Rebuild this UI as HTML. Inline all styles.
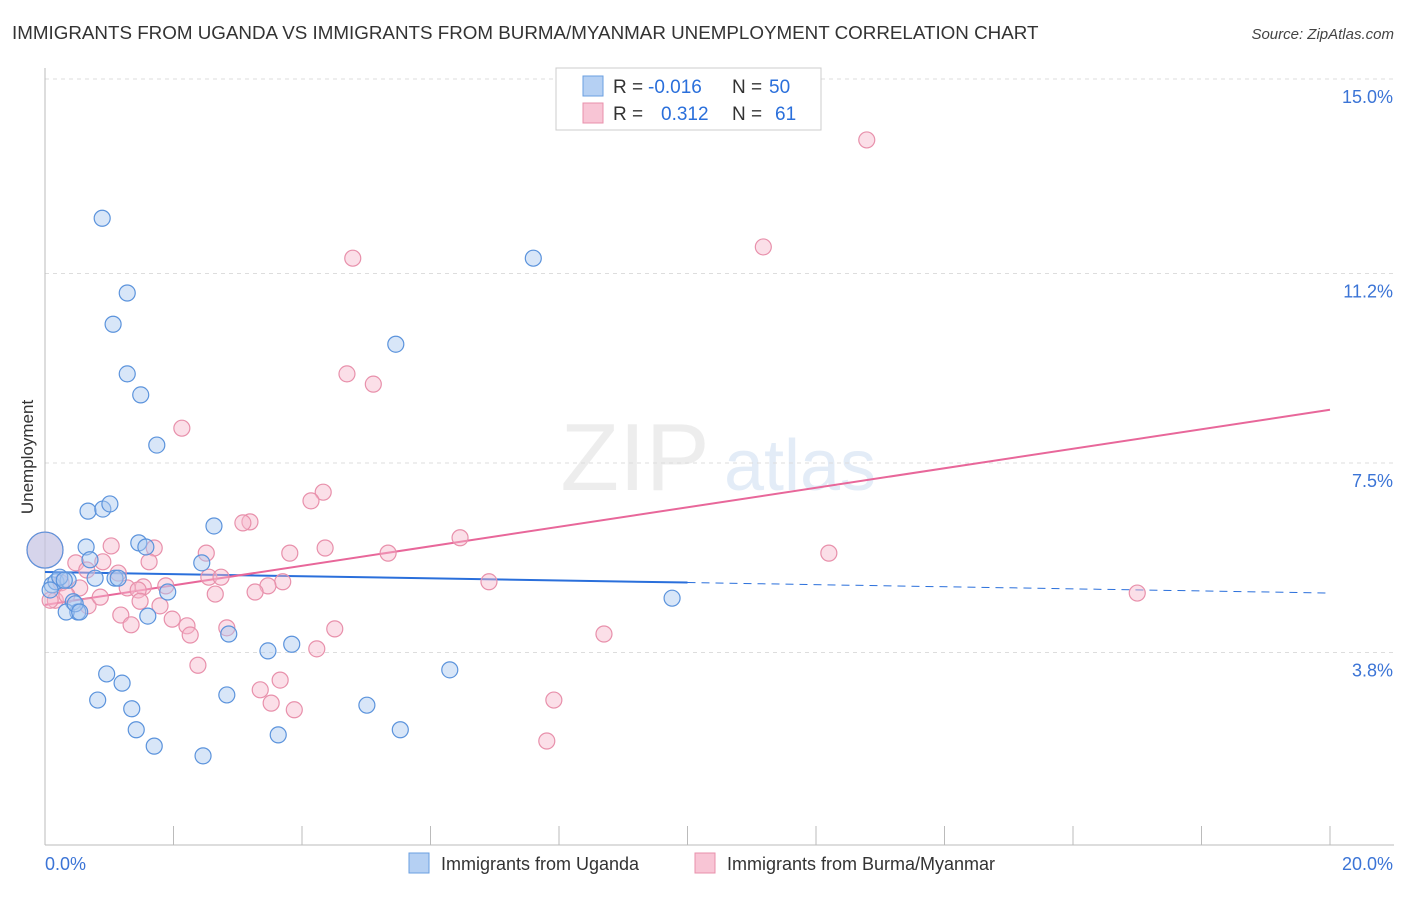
<!DOCTYPE html>
<html><head><meta charset="utf-8"><style>
body{margin:0;background:#fff;font-family:"Liberation Sans",sans-serif;}
svg text{font-family:"Liberation Sans",sans-serif;}
</style></head><body>
<svg id="chart" width="1406" height="892" viewBox="0 0 1406 892" xmlns="http://www.w3.org/2000/svg">
<text x="12" y="39" font-size="18.8" fill="#333">IMMIGRANTS FROM UGANDA VS IMMIGRANTS FROM BURMA/MYANMAR UNEMPLOYMENT CORRELATION CHART</text>
<text x="1394" y="39" font-size="15" fill="#444" text-anchor="end" font-style="italic">Source: ZipAtlas.com</text>
<text transform="translate(33,457) rotate(-90)" font-size="17" fill="#333" text-anchor="middle">Unemployment</text>
<g opacity="0.5"><text x="635" y="490" font-size="96" font-family="Liberation Serif" fill="#ddd" text-anchor="middle">ZIP</text><text x="800" y="490" font-size="72" fill="#c8daf0" text-anchor="middle">atlas</text></g>
<g id="grid"></g><g id="axes"></g><g id="lines"></g><g id="points"></g>
<g>
<rect x="556" y="68" width="265" height="62" fill="#fff" stroke="#ccc"/>
<rect x="583" y="76" width="20" height="20" fill="#b5d0f3" stroke="#6a9fe0"/>
<rect x="583" y="103" width="20" height="20" fill="#f8c5d5" stroke="#e890ab"/>
<text x="613" y="93" font-size="19" fill="#333">R =</text>
<text x="648" y="93" font-size="19" fill="#2a6fdb">-0.016</text>
<text x="732" y="93" font-size="19" fill="#333">N =</text>
<text x="769" y="93" font-size="19" fill="#2a6fdb">50</text>
<text x="613" y="120" font-size="19" fill="#333">R =</text>
<text x="661" y="120" font-size="19" fill="#2a6fdb">0.312</text>
<text x="732" y="120" font-size="19" fill="#333">N =</text>
<text x="775" y="120" font-size="19" fill="#2a6fdb">61</text>
</g>
<g>
<rect x="409" y="853" width="20" height="20" fill="#b5d0f3" stroke="#6a9fe0"/>
<text x="441" y="870" font-size="18" fill="#333">Immigrants from Uganda</text>
<rect x="695" y="853" width="20" height="20" fill="#f8c5d5" stroke="#e890ab"/>
<text x="727" y="870" font-size="18" fill="#333">Immigrants from Burma/Myanmar</text>
</g>
</svg>
<script>
const yTicks=[15.0,11.2,7.5,3.8];
const yTickLabels=["15.0%","11.2%","7.5%","3.8%"];
const xTickLabels=["0.0%","20.0%"];
const ugX=[0.89,1.28,1.06,1.28,1.49,1.74,7.60,5.46,0.67,0.90,1.01,2.63,1.46,0.64,1.57,0.70,2.44,0.11,0.17,0.36,0.78,1.09,1.14,1.91,0.44,0.51,0.33,1.60,2.86,3.84,3.47,9.76,6.30,0.96,1.20,0.82,2.83,1.35,5.01,1.42,5.53,3.63,1.70,2.46,0.00,0.23,0.47,0.30,0.08,0.54];
const ugY=[12.28,10.82,10.21,9.24,8.83,7.85,11.50,9.82,6.56,6.60,6.70,6.27,5.94,5.86,5.86,5.61,5.55,5.12,5.18,5.21,5.25,5.25,5.25,4.98,4.79,4.59,4.59,4.51,4.16,3.96,3.83,4.86,3.46,3.38,3.20,2.87,2.97,2.70,2.77,2.29,2.29,2.19,1.97,1.78,5.80,5.27,4.75,5.21,5.02,4.59];
const bmX=[12.79,11.18,4.79,4.70,5.11,2.13,4.33,4.14,3.19,3.08,6.46,12.20,1.03,1.70,3.81,2.51,5.34,4.36,0.48,0.90,1.62,0.00,0.65,1.14,2.55,2.74,3.70,3.47,6.91,0.25,1.88,1.53,1.28,1.45,0.54,3.27,2.65,17.00,0.16,0.67,1.79,1.18,1.98,2.21,1.34,2.26,2.83,4.51,8.70,4.23,2.38,3.35,3.66,3.52,3.88,7.92,7.81,0.86,0.34,0.08,1.48];
const bmY=[13.81,11.72,11.50,9.24,9.04,8.18,6.93,6.76,6.35,6.33,6.04,5.74,5.88,5.84,5.74,5.74,5.74,5.84,5.55,5.57,5.57,5.80,5.41,5.35,5.27,5.27,5.18,5.10,5.18,5.16,5.10,5.08,5.06,5.02,5.06,4.98,4.94,4.96,4.82,4.71,4.71,4.53,4.45,4.32,4.34,4.14,4.28,4.26,4.16,3.87,3.55,3.07,3.26,2.81,2.68,2.87,2.07,4.88,4.92,4.82,4.80];
const ugTrend=[5.37,4.96];
const bmTrend=[4.73,8.54];
const NS="http://www.w3.org/2000/svg";
const xs=v=>45+v/20*1285;
const ys=v=>79+(15-v)*51.2;
function mk(tag,attrs,parent){const e=document.createElementNS(NS,tag);for(const k in attrs)e.setAttribute(k,attrs[k]);document.getElementById(parent).appendChild(e);return e;}
yTicks.forEach((t,i)=>{
 const g=mk('line',{x1:45,x2:1394,y1:ys(t),y2:ys(t),stroke:'#ddd','stroke-dasharray':'4,4'},'grid');
 
 
 const tx=mk('text',{x:1393,y:ys(t)+24,'font-size':18,fill:'#3b74d6','text-anchor':'end'},'grid');tx.textContent=yTickLabels[i];
 
 
});
const ax=mk('line',{x1:45,x2:45,y1:68,y2:845,stroke:'#bbb'},'axes');


const bx=mk('line',{x1:45,x2:1394,y1:845,y2:845,stroke:'#bbb'},'axes');


for(let k=0;k<=10;k++){const t=mk('line',{x1:xs(k*2),x2:xs(k*2),y1:826,y2:845,stroke:'#bbb'},'axes');
 
 }
[[0,45,'start'],[20,1393,'end']].forEach((d,i)=>{const t=mk('text',{x:d[1],y:870,'font-size':18,fill:'#3b74d6','text-anchor':d[2]},'axes');t.textContent=xTickLabels[i];
 
 });
function pts(X,Y,fill,stroke,name){X.forEach((x,i)=>{const r=(x===0)?18:8;const c=mk('circle',{cx:xs(x),cy:ys(Y[i]),r:r,fill:fill,'fill-opacity':0.45,stroke:stroke,'stroke-width':1.2},'points');
 
 });}
pts(bmX,bmY,'#f6b9cc','#e890ab','burma-point');
pts(ugX,ugY,'#a9c8f0','#5b93dc','uganda-point');
const ugMid=ugTrend[0]+(ugTrend[1]-ugTrend[0])*0.5;
const l1=mk('line',{x1:xs(0),y1:ys(ugTrend[0]),x2:xs(10),y2:ys(ugMid),stroke:'#2a6fdb','stroke-width':2},'lines');


const l2=mk('line',{x1:xs(10),y1:ys(ugMid),x2:xs(20),y2:ys(ugTrend[1]),stroke:'#2a6fdb','stroke-width':1,'stroke-dasharray':'8,6'},'lines');


const l3=mk('line',{x1:xs(0),y1:ys(bmTrend[0]),x2:xs(20),y2:ys(bmTrend[1]),stroke:'#e8679a','stroke-width':2},'lines');


</script>
</body></html>
